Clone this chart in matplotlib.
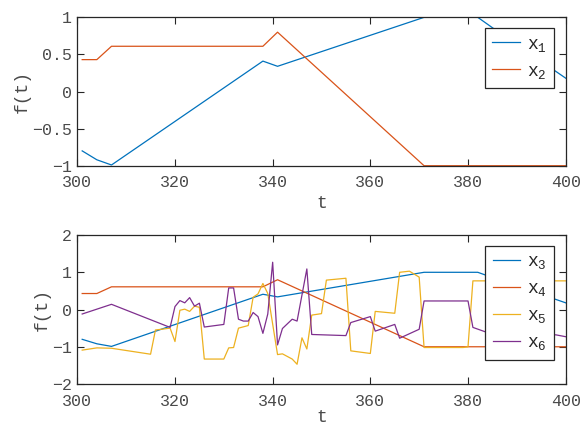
import matplotlib
matplotlib.use('Agg')
import matplotlib.pyplot as plt

# MATLAB-like look: Courier-style mono font, boxed axes, inward ticks
plt.rcParams['font.family'] = ['Liberation Mono', 'DejaVu Sans Mono']
plt.rcParams['mathtext.fontset'] = 'custom'
plt.rcParams['mathtext.rm'] = 'Liberation Mono'
plt.rcParams['mathtext.it'] = 'Liberation Mono'
plt.rcParams['axes.unicode_minus'] = True

BLUE = '#0072BD'
RED = '#D95319'
YELLOW = '#EDB120'
PURPLE = '#7E2F8E'
AXC = '#262626'
TXT = '#4a4a4a'

# x1 / x3 (same curve)
t_a = [301, 304, 307, 338, 341, 371, 382, 385, 400]
x_a = [-0.80, -0.92, -0.99, 0.41, 0.34, 1.00, 1.00, 0.86, 0.18]

# x2 / x4 (same curve)
t_b = [301, 304, 307, 338, 341, 371, 400]
x_b = [0.43, 0.43, 0.61, 0.61, 0.80, -1.00, -1.00]

# x5
t_5 = [301, 304, 307, 315, 316, 319, 320, 321, 322, 323, 324, 325, 326, 330,
       331, 332, 333, 335, 336, 337, 338, 339, 341, 342, 344, 345, 346, 347,
       348, 350, 351, 355, 356, 360, 361, 365, 366, 368, 370, 371, 379, 380,
       381, 400]
x_5 = [-1.09, -1.03, -1.04, -1.20, -0.55, -0.50, -0.86, -0.02, 0.01, -0.05,
       0.09, 0.06, -1.33, -1.33, -1.03, -1.02, -0.50, -0.43, 0.33, 0.42, 0.70,
       0.43, -1.21, -1.19, -1.33, -1.47, -0.76, -1.06, -0.15, -0.11, 0.79,
       0.84, -1.11, -1.18, -0.05, -0.10, 1.00, 1.03, 0.87, -1.02, -1.02,
       -1.00, 0.77, 0.77]

# x6
t_6 = [301, 307, 319, 320, 321, 322, 323, 324, 325, 326, 330, 331, 332, 333,
       334, 335, 336, 337, 338, 339, 340, 341, 342, 344, 345, 347, 348, 355,
       356, 360, 361, 365, 366, 370, 371, 380, 381, 384, 398, 400]
x_6 = [-0.12, 0.14, -0.48, 0.08, 0.24, 0.18, 0.32, 0.09, 0.17, -0.47, -0.40,
       0.58, 0.58, -0.26, -0.31, -0.31, -0.08, -0.19, -0.64, -0.12, 1.27,
       -0.95, -0.51, -0.26, -0.31, 1.09, -0.67, -0.70, -0.35, -0.19, -0.58,
       -0.40, -0.77, -0.53, 0.23, 0.23, -0.48, -0.62, -0.68, -0.73]

top_yticks = [-1, -0.5, 0, 0.5, 1]
bot_yticks = [-2, -1, 0, 1, 2]
xticks = [300, 320, 340, 360, 380, 400]

fig = plt.figure(figsize=(5.87, 4.28), dpi=100)
ax1 = fig.add_axes([0.1317, 0.6128, 0.832, 0.3467])
ax2 = fig.add_axes([0.1317, 0.1028, 0.832, 0.348])

lw = 0.9
ax1.plot(t_a, x_a, color=BLUE, lw=lw, label='x$_1$')
ax1.plot(t_b, x_b, color=RED, lw=lw, label='x$_2$')
ax1.set_ylim(-1, 1)
ax1.set_yticks(top_yticks)
ax1.set_yticklabels(['\u22121', '\u22120.5', '0', '0.5', '1'])

ax2.plot(t_a, x_a, color=BLUE, lw=lw, label='x$_3$')
ax2.plot(t_b, x_b, color=RED, lw=lw, label='x$_4$')
ax2.plot(t_5, x_5, color=YELLOW, lw=lw, label='x$_5$')
ax2.plot(t_6, x_6, color=PURPLE, lw=lw, label='x$_6$')
ax2.set_ylim(-2, 2)
ax2.set_yticks(bot_yticks)

for ax, lp in ((ax1, 3), (ax2, 0)):
    ax.set_xlim(300, 400)
    ax.set_xticks(xticks)
    ax.set_xlabel('t', fontsize=13, color=TXT, labelpad=lp)
    ax.set_ylabel('f(t)', fontsize=13, color=TXT, labelpad=1)
    ax.tick_params(direction='in', top=True, right=True, length=5,
                   width=0.8, color=AXC, labelcolor=TXT, labelsize=12)
    ax.tick_params(axis='x', pad=7)
    ax.tick_params(axis='y', pad=4)
    for s in ax.spines.values():
        s.set_color(AXC)
        s.set_linewidth(0.9)
    leg = ax.legend(loc='upper right', bbox_to_anchor=(0.976, 0.926),
                    borderaxespad=0, fancybox=False, framealpha=1,
                    edgecolor=AXC, fontsize=13, handlelength=1.5,
                    labelspacing=0.5, borderpad=0.4, handletextpad=0.4)
    leg.get_frame().set_linewidth(0.9)
    for txt in leg.get_texts():
        txt.set_color(AXC)

fig.savefig('out.png', dpi=100)
